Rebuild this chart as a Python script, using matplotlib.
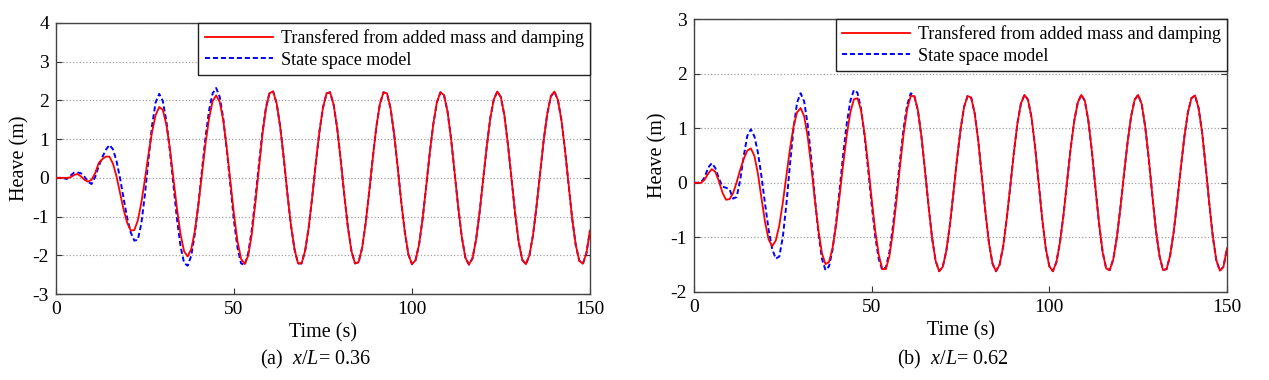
import numpy as np
import matplotlib
matplotlib.use('Agg')
import matplotlib.pyplot as plt

plt.rcParams['font.family'] = ['Liberation Serif', 'DejaVu Serif']
plt.rcParams['mathtext.fontset'] = 'custom'
plt.rcParams['mathtext.rm'] = 'Liberation Serif'
plt.rcParams['mathtext.it'] = 'Liberation Serif:italic'
plt.rcParams['axes.unicode_minus'] = False

# time samples (s)
time = np.arange(0, 151)

# (a) x/L = 0.36 -- transfered from added mass and damping
heave_a_red = [
    0.00, 0.00, 0.00, 0.00, 0.01, 0.07, 0.10, 0.04, -0.05, -0.10,
    -0.05, 0.12, 0.38, 0.48, 0.55, 0.55, 0.37, 0.04, -0.39, -0.82,
    -1.16, -1.36, -1.35, -1.10, -0.63, -0.03, 0.62, 1.19, 1.62, 1.83,
    1.76, 1.38, 0.76, -0.02, -0.80, -1.46, -1.90, -2.03, -1.84, -1.38,
    -0.70, 0.09, 0.88, 1.53, 1.98, 2.13, 1.96, 1.48, 0.75, -0.09,
    -0.94, -1.64, -2.09, -2.23, -2.01, -1.46, -0.66, 0.24, 1.12, 1.80,
    2.19, 2.23, 1.92, 1.31, 0.50, -0.40, -1.22, -1.84, -2.21, -2.21,
    -1.88, -1.28, -0.48, 0.39, 1.19, 1.81, 2.18, 2.21, 1.89, 1.28,
    0.45, -0.45, -1.27, -1.89, -2.21, -2.18, -1.81, -1.17, -0.35, 0.52,
    1.32, 1.91, 2.21, 2.18, 1.79, 1.12, 0.27, -0.63, -1.40, -1.98,
    -2.23, -2.13, -1.72, -1.05, -0.22, 0.64, 1.39, 1.95, 2.21, 2.14,
    1.71, 1.00, 0.13, -0.76, -1.53, -2.06, -2.24, -2.08, -1.60, -0.89,
    -0.05, 0.80, 1.54, 2.03, 2.23, 2.08, 1.59, 0.83, -0.05, -0.93,
    -1.67, -2.12, -2.23, -2.00, -1.48, -0.73, 0.13, 0.97, 1.65, 2.10,
    2.23, 2.01, 1.48, 0.71, -0.18, -1.05, -1.73, -2.14, -2.22, -1.95,
    -1.36]

# (a) state space model, first 61 s (afterwards it lies on the red curve)
heave_a_blue_start = [
    0.00, 0.00, 0.00, -0.03, 0.05, 0.13, 0.14, 0.12, 0.03, -0.10,
    -0.16, 0.02, 0.30, 0.53, 0.72, 0.85, 0.74, 0.44, -0.01, -0.53,
    -1.03, -1.41, -1.62, -1.60, -1.17, -0.42, 0.49, 1.35, 1.95, 2.17,
    1.99, 1.47, 0.70, -0.19, -1.07, -1.77, -2.20, -2.27, -2.01, -1.45,
    -0.69, 0.19, 1.04, 1.74, 2.18, 2.32, 2.09, 1.53, 0.71, -0.21,
    -1.11, -1.81, -2.21, -2.25, -1.95, -1.35, -0.54, 0.34, 1.18, 1.83,
    2.20]
heave_a_blue = heave_a_blue_start + heave_a_red[61:]

# (b) x/L = 0.62 -- transfered from added mass and damping
heave_b_red = [
    0.00, 0.00, 0.00, 0.06, 0.17, 0.25, 0.20, 0.03, -0.18, -0.31,
    -0.30, -0.19, 0.01, 0.24, 0.44, 0.59, 0.63, 0.49, 0.16, -0.29,
    -0.72, -1.04, -1.16, -1.06, -0.78, -0.36, 0.13, 0.62, 1.03, 1.29,
    1.37, 1.22, 0.84, 0.30, -0.31, -0.86, -1.29, -1.49, -1.45, -1.19,
    -0.77, -0.22, 0.35, 0.88, 1.29, 1.53, 1.55, 1.33, 0.90, 0.33,
    -0.30, -0.88, -1.32, -1.58, -1.58, -1.34, -0.89, -0.31, 0.32, 0.90,
    1.35, 1.59, 1.59, 1.33, 0.85, 0.23, -0.42, -1.01, -1.43, -1.62,
    -1.54, -1.25, -0.78, -0.19, 0.42, 0.97, 1.39, 1.59, 1.56, 1.27,
    0.77, 0.13, -0.53, -1.10, -1.48, -1.62, -1.50, -1.17, -0.66, -0.07,
    0.54, 1.08, 1.45, 1.61, 1.52, 1.19, 0.65, -0.01, -0.66, -1.20,
    -1.53, -1.62, -1.45, -1.09, -0.58, 0.03, 0.63, 1.13, 1.47, 1.61,
    1.50, 1.13, 0.56, -0.11, -0.75, -1.27, -1.57, -1.60, -1.40, -1.00,
    -0.46, 0.15, 0.73, 1.21, 1.52, 1.61, 1.44, 1.02, 0.43, -0.24,
    -0.87, -1.34, -1.60, -1.58, -1.33, -0.90, -0.34, 0.27, 0.84, 1.29,
    1.55, 1.60, 1.37, 0.92, 0.30, -0.37, -0.98, -1.42, -1.61, -1.54,
    -1.20]

heave_b_blue_start = [
    0.00, 0.00, 0.01, 0.10, 0.28, 0.36, 0.27, 0.08, -0.07, -0.09,
    -0.12, -0.29, -0.26, 0.05, 0.49, 0.86, 0.98, 0.85, 0.55, 0.11,
    -0.39, -0.86, -1.21, -1.39, -1.35, -0.99, -0.39, 0.33, 0.99, 1.47,
    1.64, 1.49, 1.06, 0.44, -0.27, -0.91, -1.39, -1.60, -1.53, -1.22,
    -0.72, -0.11, 0.53, 1.09, 1.50, 1.70, 1.65, 1.36, 0.86, 0.25,
    -0.40, -0.98, -1.40, -1.60, -1.55, -1.27, -0.79, -0.20, 0.43, 1.00,
    1.43, 1.64]
heave_b_blue = heave_b_blue_start + heave_b_red[62:]

label_red = 'Transfered from added mass and damping'
label_blue = 'State space model'

panels = [
    (heave_a_red, heave_a_blue, (-3, 4), [0.0441, 0.2263, 0.4208, 0.7132], r'(a)  $x/L$= 0.36'),
    (heave_b_red, heave_b_blue, (-2, 3), [0.5469, 0.2316, 0.4200, 0.7184], r'(b)  $x/L$= 0.62'),
]

fig = plt.figure(figsize=(12.69, 3.8), dpi=100)

for red, blue, ylim, rect, caption in panels:
    ax = fig.add_axes(rect)
    ax.plot(time, red, color='#ff0000', lw=1.3, label=label_red, zorder=3)
    ax.plot(time, blue, color='#0000ff', lw=1.4, linestyle=(0, (2.6, 1.5)),
            label=label_blue, zorder=2)
    ax.set_xlim(0, 150)
    ax.set_ylim(*ylim)
    ax.set_xticks([0, 50, 100, 150])
    ax.set_yticks(range(ylim[0], ylim[1] + 1))
    ax.yaxis.grid(True, linestyle=':', color='#a0a0a0', lw=0.9)
    ax.set_axisbelow(True)
    ax.tick_params(direction='in', top=True, right=True, labelsize=14,
                   length=4, color='#333333', pad=5)
    for s in ax.spines.values():
        s.set_color('#444444')
        s.set_linewidth(1.0)
    ax.set_xlabel('Time (s)', fontsize=14.5, labelpad=4)
    ax.set_ylabel('Heave (m)', fontsize=14.5, labelpad=2)
    leg = ax.legend(loc='upper right', borderaxespad=0, fontsize=13,
                    handlelength=3.8, handletextpad=0.4, borderpad=0.35,
                    labelspacing=0.25, fancybox=False, framealpha=1)
    leg.get_frame().set_edgecolor('#222222')
    leg.get_frame().set_linewidth(1.0)
    cx = rect[0] + rect[2] / 2 - 0.006
    fig.text(cx, 1 - 359 / 380, caption, fontsize=14.5, ha='center', va='center')

plt.savefig('out.png', dpi=100)
